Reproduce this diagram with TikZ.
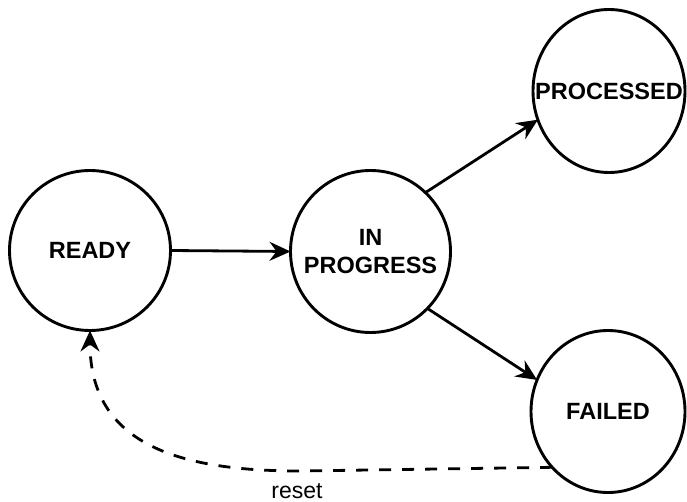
\documentclass[tikz,border=0pt]{standalone}
\usepackage{fontspec}
\setmainfont{Liberation Sans}
\usetikzlibrary{arrows.meta,shapes.geometric}
\tikzset{
  state/.style={draw=black, line width=2.9pt, ellipse, inner sep=0pt, outer sep=0pt,
    label={[font=\fontsize{23.5}{28}\selectfont\bfseries, align=center, inner sep=0pt]center:#1}},
  conn/.style={line width=2.8pt, -{Stealth[length=21pt,width=19pt,inset=7pt]}},
  resetline/.style={conn, dash pattern=on 12pt off 11pt},
  lbl/.style={font=\fontsize{23}{28}\selectfont, inner sep=0pt}
}
\begin{document}
\begin{tikzpicture}[x=1pt,y=-1pt]
\useasboundingbox (0,0) rectangle (687,502);
\node[state={READY}, minimum width=161pt, minimum height=160pt] (ready) at (90,250.5) {};
\node[state={IN\\PROGRESS}, minimum width=160pt, minimum height=162pt] (ip) at (370.5,251.5) {};
\node[state={PROCESSED}, minimum width=152pt, minimum height=163pt] (proc) at (609,91) {};
\node[state={FAILED}, minimum width=154pt, minimum height=162pt] (failed) at (608,411.5) {};
\node[lbl] (resetlbl) at (297,491) {reset};
\draw[conn] (ready.east) -- (ip.west);
\draw[conn] (ip.47) -- (proc.202);
\draw[conn] (ip.-45) -- (failed.156);
\draw[resetline] (failed.225) -- (300,471) .. controls (180,471) and (90,445) .. (ready.south);
\end{tikzpicture}
\end{document}
